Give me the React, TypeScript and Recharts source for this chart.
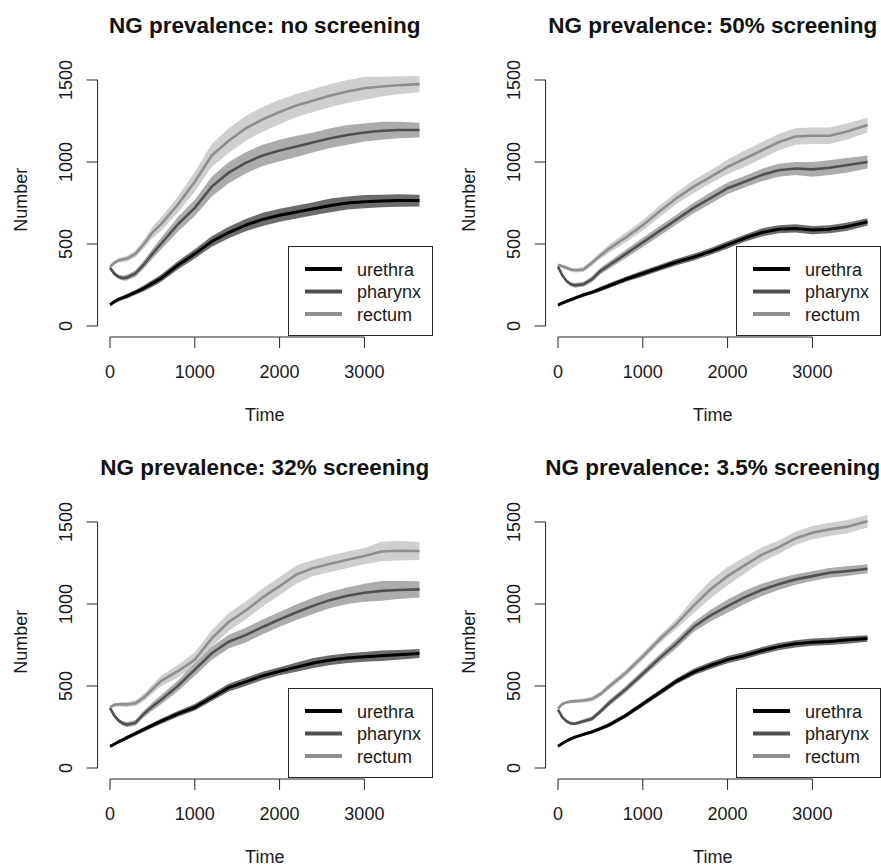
import React from 'react';
import { ComposedChart, Line, Area, XAxis, YAxis, ReferenceLine, Legend } from 'recharts';

const FONT = '"Liberation Sans", Arial, Helvetica, sans-serif';

// ---------- data ----------
const TIME = [0, 50, 100, 150, 200, 300, 400, 500, 600, 800, 1000, 1200, 1400, 1600, 1800, 2000, 2200, 2400, 2600, 2800, 3000, 3200, 3400, 3650];
const SERIES_NAMES = ['urethra', 'pharynx', 'rectum'];
const X_TICKS = [0, 1000, 2000, 3000];
const Y_TICKS = [0, 500, 1000, 1500];
const TITLES = [
  'NG prevalence: no screening',
  'NG prevalence: 50% screening',
  'NG prevalence: 32% screening',
  'NG prevalence: 3.5% screening',
];

// panel 1: no screening
const NO_URETHRA = [130, 148, 162, 172, 182, 205, 230, 260, 290, 370, 440, 515, 570, 615, 650, 675, 695, 715, 735, 750, 758, 762, 765, 765];
const NO_PHARYNX = [355, 320, 300, 292, 295, 320, 375, 440, 500, 620, 720, 850, 935, 995, 1040, 1070, 1095, 1120, 1145, 1165, 1180, 1190, 1195, 1195];
const NO_RECTUM = [360, 385, 400, 405, 410, 440, 500, 570, 620, 740, 880, 1040, 1130, 1205, 1260, 1305, 1345, 1375, 1405, 1430, 1450, 1460, 1468, 1475];
const NO_URETHRA_SPREAD = [8, 10, 12, 12, 14, 15, 18, 20, 22, 25, 28, 32, 35, 38, 40, 40, 40, 40, 42, 40, 40, 38, 38, 36];
const NO_PHARYNX_SPREAD = [10, 12, 14, 15, 18, 20, 25, 30, 35, 45, 50, 60, 65, 65, 65, 65, 65, 60, 60, 60, 55, 55, 50, 45];
const NO_RECTUM_SPREAD = [10, 12, 14, 15, 18, 20, 28, 35, 40, 50, 60, 70, 75, 75, 75, 75, 70, 70, 70, 70, 70, 60, 55, 50];

// panel 2: 50% screening
const S50_URETHRA = [128, 140, 150, 160, 170, 190, 205, 225, 245, 285, 320, 355, 390, 420, 455, 495, 535, 570, 590, 595, 585, 590, 605, 635];
const S50_PHARYNX = [362, 310, 275, 255, 248, 255, 285, 335, 370, 440, 510, 580, 650, 720, 780, 840, 880, 920, 950, 960, 955, 965, 980, 1000];
const S50_RECTUM = [372, 365, 355, 345, 340, 345, 385, 430, 470, 540, 615, 700, 780, 850, 910, 970, 1020, 1070, 1120, 1155, 1160, 1160, 1185, 1225];
const S50_URETHRA_SPREAD = [8, 8, 10, 10, 10, 12, 12, 14, 15, 15, 18, 18, 20, 20, 20, 22, 22, 25, 25, 25, 25, 25, 25, 22];
const S50_PHARYNX_SPREAD = [10, 10, 12, 12, 14, 15, 18, 20, 22, 25, 28, 30, 30, 32, 35, 35, 35, 38, 40, 40, 45, 45, 45, 40];
const S50_RECTUM_SPREAD = [10, 10, 12, 12, 14, 15, 18, 20, 25, 30, 32, 35, 35, 40, 40, 45, 50, 50, 50, 50, 50, 50, 50, 45];

// panel 3: 32% screening
const S32_URETHRA = [132, 145, 160, 172, 185, 210, 235, 260, 285, 330, 370, 430, 490, 525, 562, 590, 615, 640, 658, 670, 678, 685, 690, 698];
const S32_PHARYNX = [366, 320, 290, 272, 265, 275, 330, 375, 415, 500, 600, 700, 770, 810, 860, 906, 950, 990, 1025, 1050, 1069, 1080, 1085, 1089];
const S32_RECTUM = [370, 385, 388, 388, 387, 395, 430, 480, 530, 590, 660, 790, 890, 960, 1040, 1109, 1180, 1220, 1245, 1270, 1292, 1320, 1325, 1323];
const S32_URETHRA_SPREAD = [8, 8, 10, 10, 12, 12, 14, 15, 16, 18, 20, 22, 24, 25, 25, 25, 28, 30, 30, 30, 30, 32, 30, 28];
const S32_PHARYNX_SPREAD = [10, 12, 12, 14, 15, 18, 20, 25, 28, 32, 38, 40, 42, 45, 45, 45, 48, 50, 50, 50, 55, 60, 55, 50];
const S32_RECTUM_SPREAD = [10, 12, 12, 14, 15, 18, 22, 28, 32, 38, 45, 50, 55, 55, 55, 55, 55, 50, 50, 50, 50, 60, 60, 55];

// panel 4: 3.5% screening
const S35_URETHRA = [132, 150, 165, 178, 188, 205, 220, 240, 262, 320, 390, 460, 530, 585, 625, 661, 685, 715, 740, 757, 767, 772, 780, 790];
const S35_PHARYNX = [356, 310, 285, 272, 270, 285, 300, 345, 395, 480, 575, 670, 760, 860, 930, 987, 1040, 1085, 1120, 1150, 1170, 1190, 1200, 1215];
const S35_RECTUM = [362, 390, 400, 405, 407, 412, 420, 450, 495, 580, 680, 785, 880, 990, 1090, 1170, 1235, 1300, 1345, 1400, 1435, 1455, 1470, 1505];
const S35_URETHRA_SPREAD = [6, 6, 8, 8, 8, 10, 10, 12, 12, 14, 15, 16, 18, 20, 22, 22, 22, 22, 22, 22, 22, 22, 22, 20];
const S35_PHARYNX_SPREAD = [8, 8, 10, 10, 10, 12, 14, 15, 18, 20, 22, 25, 28, 30, 35, 40, 40, 38, 35, 32, 30, 30, 30, 28];
const S35_RECTUM_SPREAD = [8, 10, 10, 10, 12, 12, 14, 16, 18, 20, 22, 25, 30, 45, 55, 55, 50, 45, 40, 40, 40, 40, 40, 38];

const PANEL_MEANS = [
  [NO_URETHRA, NO_PHARYNX, NO_RECTUM],
  [S50_URETHRA, S50_PHARYNX, S50_RECTUM],
  [S32_URETHRA, S32_PHARYNX, S32_RECTUM],
  [S35_URETHRA, S35_PHARYNX, S35_RECTUM],
];
const PANEL_SPREADS = [
  [NO_URETHRA_SPREAD, NO_PHARYNX_SPREAD, NO_RECTUM_SPREAD],
  [S50_URETHRA_SPREAD, S50_PHARYNX_SPREAD, S50_RECTUM_SPREAD],
  [S32_URETHRA_SPREAD, S32_PHARYNX_SPREAD, S32_RECTUM_SPREAD],
  [S35_URETHRA_SPREAD, S35_PHARYNX_SPREAD, S35_RECTUM_SPREAD],
];

// ---------- styling / layout ----------
const LINE_COLORS = ['#000000', '#505050', '#8e8e8e'];
const BAND_COLORS = ['#6c6c6c', '#acacac', '#cfcfcf'];
const LINE_WIDTHS = [3, 2.6, 2.6];
const PANEL_POS = [
  { left: 0, top: 0 },
  { left: 448.3, top: 0 },
  { left: 0, top: 442.3 },
  { left: 448.3, top: 442.3 },
];
const W = 440;
const H = 433;
const PLOT_LEFT = 97.6;
const PLOT_RIGHT = 431.9;
const PLOT_TOP = 60.3;
const PLOT_BOTTOM = 337;
const X_DOMAIN = [-146, 3796];
const Y_DOMAIN = [-67, 1620];
const AXIS_COLOR = '#262626';
const TEXT_COLOR = '#1a1a1a';

const XTick = (props: any) => {
  const { x, payload } = props;
  return (
    <text x={x} y={PLOT_BOTTOM + 41} textAnchor="middle" fontSize={18} fontFamily={FONT} fill={TEXT_COLOR}>
      {payload.value}
    </text>
  );
};

const YTick = (props: any) => {
  const { y, payload } = props;
  const bx = PLOT_LEFT - 26;
  return (
    <text x={bx} y={y} transform={`rotate(-90, ${bx}, ${y})`} textAnchor="middle" fontSize={18} fontFamily={FONT} fill={TEXT_COLOR}>
      {payload.value}
    </text>
  );
};

const LegendBox = (props: any) => {
  const payload: any[] = props.payload || [];
  const items = SERIES_NAMES.map((n) => payload.find((p) => p.value === n)).filter(Boolean);
  return (
    <svg width={145} height={90} style={{ display: 'block' }}>
      <rect x={0.5} y={0.5} width={144} height={89} fill="#ffffff" stroke={AXIS_COLOR} strokeWidth={1} />
      {items.map((it: any, i: number) => (
        <g key={it.value}>
          <line x1={17} x2={54} y1={23 + i * 22.5} y2={23 + i * 22.5} stroke={it.color} strokeWidth={4} />
          <text x={69} y={23 + i * 22.5 + 6.5} fontSize={18} fontFamily={FONT} fill={TEXT_COLOR}>
            {it.value}
          </text>
        </g>
      ))}
    </svg>
  );
};

const Panel = ({ index }: { index: number }) => {
  const means = PANEL_MEANS[index];
  const spreads = PANEL_SPREADS[index];
  const rows = TIME.map((t, i) => {
    const row: any = { t };
    SERIES_NAMES.forEach((name, s) => {
      row[name] = means[s][i];
      row[name + 'Band'] = [means[s][i] - spreads[s][i], means[s][i] + spreads[s][i]];
    });
    return row;
  });
  const pos = PANEL_POS[index];
  const cx = (PLOT_LEFT + PLOT_RIGHT) / 2;
  const cy = (PLOT_TOP + PLOT_BOTTOM) / 2 + 1;
  return (
    <div style={{ position: 'absolute', left: pos.left, top: pos.top, width: W, height: H }}>
      <svg width={W} height={H} style={{ position: 'absolute', left: 0, top: 0 }}>
        <text x={cx} y={33} textAnchor="middle" fontSize={22.5} fontWeight="bold" fontFamily={FONT} fill="#111">
          {TITLES[index]}
        </text>
        <text x={cx} y={421} textAnchor="middle" fontSize={18} fontFamily={FONT} fill={TEXT_COLOR}>
          Time
        </text>
        <text x={27} y={cy} transform={`rotate(-90, 27, ${cy})`} textAnchor="middle" fontSize={18} fontFamily={FONT} fill={TEXT_COLOR}>
          Number
        </text>
      </svg>
      <div style={{ position: 'absolute', left: 0, top: 0 }}>
        <ComposedChart
          width={W}
          height={H}
          data={rows}
          margin={{ top: PLOT_TOP, right: W - PLOT_RIGHT, bottom: 0, left: 0 }}
        >
          <XAxis
            dataKey="t"
            type="number"
            domain={X_DOMAIN}
            ticks={X_TICKS}
            allowDataOverflow
            axisLine={false}
            tickSize={11}
            tickLine={{ stroke: AXIS_COLOR, strokeWidth: 1 }}
            tick={<XTick />}
            height={H - PLOT_BOTTOM}
            interval={0}
          />
          <YAxis
            type="number"
            domain={Y_DOMAIN}
            ticks={Y_TICKS}
            allowDataOverflow
            axisLine={false}
            tickSize={11}
            tickLine={{ stroke: AXIS_COLOR, strokeWidth: 1 }}
            tick={<YTick />}
            width={PLOT_LEFT}
            interval={0}
          />
          <ReferenceLine segment={[{ x: 0, y: Y_DOMAIN[0] }, { x: 3000, y: Y_DOMAIN[0] }]} stroke={AXIS_COLOR} strokeWidth={1} ifOverflow="visible" />
          <ReferenceLine segment={[{ x: X_DOMAIN[0], y: 0 }, { x: X_DOMAIN[0], y: 1500 }]} stroke={AXIS_COLOR} strokeWidth={1} ifOverflow="visible" />
          {[2, 1, 0].map((s) => (
            <Area
              key={'band' + s}
              type="linear"
              dataKey={SERIES_NAMES[s] + 'Band'}
              stroke="none"
              fill={BAND_COLORS[s]}
              fillOpacity={1}
              legendType="none"
              isAnimationActive={false}
              dot={false}
              activeDot={false}
            />
          ))}
          {[0, 1, 2].map((s) => (
            <Line
              key={'line' + s}
              type="linear"
              dataKey={SERIES_NAMES[s]}
              name={SERIES_NAMES[s]}
              stroke={LINE_COLORS[s]}
              strokeWidth={LINE_WIDTHS[s]}
              dot={false}
              activeDot={false}
              isAnimationActive={false}
            />
          ))}
          <Legend
            layout="horizontal"
            verticalAlign="middle"
            align="center"
            content={<LegendBox />}
            wrapperStyle={{ position: 'absolute', left: 288, top: 246, width: 145, height: 90 }}
          />
        </ComposedChart>
      </div>
    </div>
  );
};

export default function App() {
  return (
    <div style={{ position: 'absolute', left: 0, top: 0, width: 881, height: 866, overflow: 'hidden', background: '#ffffff' }}>
      {[0, 1, 2, 3].map((i) => (
        <Panel key={i} index={i} />
      ))}
    </div>
  );
}
